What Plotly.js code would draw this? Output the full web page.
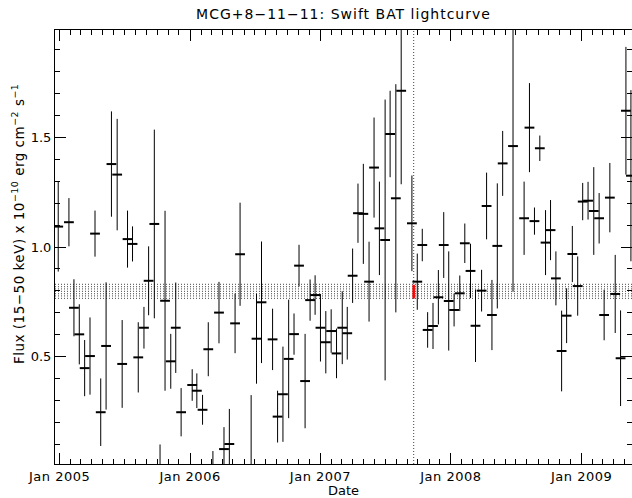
<!DOCTYPE html>
<html><head><meta charset="utf-8">
<script src="https://cdn.plot.ly/plotly-3.0.1.min.js"></script>
<style>
html,body{margin:0;padding:0;background:#fff}
text.gtitle{letter-spacing:1px}
g.xtick text{letter-spacing:0.5px}
text.annotation-text{letter-spacing:0.5px}
</style>
</head><body><div id="chart" style="width:632px;height:498px"></div>
<script>
const dates = [
'2004-12-28','2005-01-27','2005-02-10','2005-02-25','2005-03-12','2005-03-27','2005-04-10','2005-04-26',
'2005-05-11','2005-05-26','2005-06-11','2005-06-25','2005-07-10','2005-07-24','2005-08-09','2005-08-25',
'2005-09-07','2005-09-23','2005-10-09','2005-10-23','2005-11-08','2005-11-22','2005-12-07',
'2006-01-07','2006-01-20','2006-02-05','2006-02-21','2006-03-06','2006-03-23','2006-04-06','2006-04-21',
'2006-05-07','2006-05-21','2006-06-21','2006-07-06','2006-07-20','2006-08-20','2006-09-03','2006-09-18',
'2006-10-04','2006-10-19','2006-11-02','2006-11-19','2006-12-03','2006-12-17',
'2007-01-01','2007-01-16','2007-01-31','2007-02-15','2007-03-03','2007-03-17','2007-04-01','2007-04-16',
'2007-05-01','2007-05-17','2007-05-31','2007-06-15','2007-07-01','2007-07-15','2007-07-31','2007-08-15',
'2007-09-14','2007-09-29','2007-10-13','2007-10-28','2007-11-12','2007-11-27','2007-12-12','2007-12-26',
'2008-01-10','2008-01-26','2008-02-09','2008-02-25','2008-03-10','2008-03-27','2008-04-10','2008-04-25',
'2008-05-10','2008-05-25','2008-06-23','2008-07-24','2008-08-08','2008-08-22','2008-09-06','2008-09-22',
'2008-10-06','2008-10-21','2008-11-06','2008-11-20','2008-12-06','2008-12-21',
'2009-01-04','2009-01-19','2009-02-04','2009-02-19','2009-03-05','2009-03-21','2009-04-05','2009-04-20',
'2009-05-05','2009-05-19'
];
const flux = [
1.093,1.113,0.723,0.602,0.448,0.503,1.061,0.247,
0.549,1.378,1.330,0.467,1.036,1.014,0.497,0.632,
0.846,1.105,-0.050,0.755,0.479,0.632,0.247,
0.371,0.345,0.258,0.534,-0.030,0.701,0.079,0.102,
0.652,0.967,-0.050,0.582,0.748,0.579,0.227,0.329,
0.490,0.603,0.915,0.389,0.758,0.781,
0.632,0.566,0.617,0.515,0.632,0.607,0.869,1.154,
1.151,0.842,1.362,1.085,1.032,1.515,1.222,1.712,
1.108,0.842,1.009,0.622,0.640,0.771,1.009,0.754,
0.713,0.789,1.017,0.891,0.641,0.801,1.187,0.690,
1.005,1.381,1.460,1.131,1.544,1.118,1.450,1.020,
1.077,0.857,0.526,0.687,0.968,0.822,
1.207,1.211,1.164,1.131,0.690,1.225,0.786,0.493,
1.621,1.325
];
const fluxErr = [
0.205,0.110,0.130,0.137,0.128,0.176,0.105,0.154,
0.290,0.240,0.254,0.200,0.130,0.080,0.160,0.095,
0.157,0.430,0.150,0.410,0.125,0.206,0.110,
0.072,0.079,0.068,0.123,0.100,0.140,0.100,0.160,
0.136,0.235,0.375,0.205,0.277,0.140,0.118,0.217,
0.270,0.094,0.095,0.215,0.094,0.090,
0.154,0.142,0.099,0.113,0.166,0.120,0.124,0.135,
0.228,0.182,0.228,0.213,0.640,0.197,0.520,0.426,
0.218,0.128,0.074,0.081,0.105,0.124,0.150,0.226,
0.075,0.081,0.090,0.124,0.165,0.095,0.152,0.160,
0.285,0.148,0.664,0.167,0.203,0.062,0.058,0.148,
0.137,0.123,0.184,0.125,0.128,0.135,
0.085,0.086,0.200,0.115,0.115,0.158,0.178,0.218,
0.291,0.390
];
const meanDate = ['2007-09-19'];
const meanFlux = [0.797];
const meanErr = [0.031];
const bandLevels = [0.830,0.819,0.809,0.798,0.787,0.777,0.766];
const xRange = ['2004-12-19','2009-05-22'];
const yRange = [0.011,1.989];

const FONT = 'DejaVu Sans, Verdana, sans-serif';

const traces = [
  {
    type:'scatter', mode:'markers', x:dates, y:flux,
    marker:{symbol:'line-ew', size:7, color:'black', line:{width:2, color:'black'}},
    error_y:{type:'data', array:fluxErr, visible:true, color:'black', thickness:1, width:0},
    hoverinfo:'x+y', showlegend:false
  },
  {
    type:'scatter', mode:'markers', x:meanDate, y:meanFlux,
    marker:{size:1, color:'rgba(0,0,0,0)'},
    error_y:{type:'data', array:meanErr, visible:true, color:'#ff0000', thickness:2.5, width:0},
    showlegend:false
  }
];

const shapes = [];
bandLevels.forEach(v => shapes.push({
  type:'line', xref:'paper', yref:'y', x0:0, x1:1, y0:v, y1:v, layer:'below',
  line:{color:'#444', width:1, dash:'1px,2px'}
}));
shapes.push({
  type:'line', xref:'x', yref:'paper', x0:meanDate[0], x1:meanDate[0], y0:0, y1:1, layer:'below',
  line:{color:'#444', width:1, dash:'1px,2px'}
});

const layout = {
  width:632, height:498,
  margin:{l:55, r:0, t:30, b:34},
  paper_bgcolor:'#fff', plot_bgcolor:'#fff',
  font:{family:FONT, color:'#000', size:13},
  title:{text:'MCG+8\u221211\u221211: Swift BAT lightcurve', font:{family:FONT, size:14, color:'#000'}, x:0.5435, xanchor:'center', y:0.982, yanchor:'top'},
  xaxis:{
    type:'date', range:xRange, showgrid:false, zeroline:false,
    showline:true, linecolor:'#000', linewidth:1, mirror:'allticks',
    ticks:'inside', ticklen:11, tickcolor:'#000', tickwidth:1,
    tick0:'2005-01-01', dtick:'M12', tickformat:'%b %Y',
    tickfont:{family:FONT, size:13},
    minor:{ticks:'inside', ticklen:5, dtick:'M1', tickcolor:'#000', showgrid:false},
    title:{text:'Date', font:{family:FONT, size:13}, standoff:3}
  },
  yaxis:{
    range:yRange, showgrid:false, zeroline:false,
    showline:true, linecolor:'#000', linewidth:1, mirror:'allticks',
    ticks:'inside', ticklen:11, tickcolor:'#000', tickwidth:1,
    tick0:0, dtick:0.5, tickformat:'.1f',
    tickfont:{family:FONT, size:13},
    minor:{ticks:'inside', ticklen:5, dtick:0.1, tickcolor:'#000', showgrid:false}
  },
  annotations:[{
    text:'Flux (15\u221250 keV) x 10<sup>\u221210</sup> erg cm<sup>\u22122</sup> s<sup>\u22121</sup>',
    xref:'paper', yref:'paper', x:-0.064, y:0.553, xanchor:'center', yanchor:'middle',
    textangle:-90, showarrow:false, font:{family:FONT, size:13.5, color:'#000'}
  }],
  shapes:shapes
};

Plotly.newPlot('chart', traces, layout, {displayModeBar:false, staticPlot:true});
</script>
</body></html>
